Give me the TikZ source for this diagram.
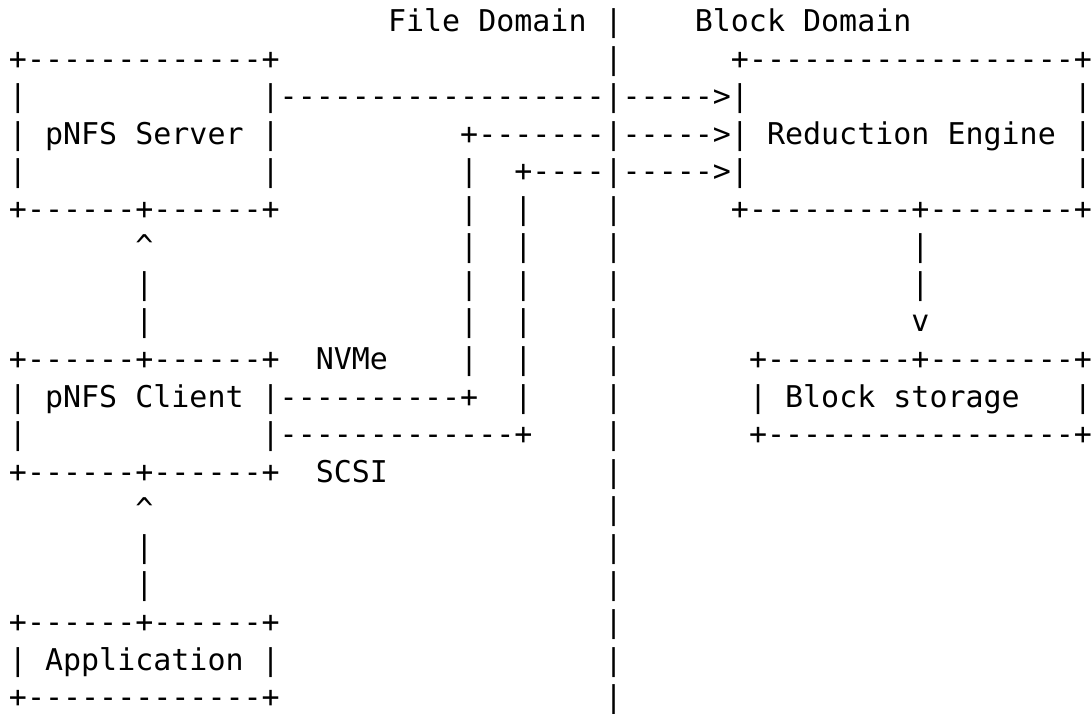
\documentclass[tikz,border=0pt]{standalone}
\usepackage{fontspec}
\setmonofont{DejaVu Sans Mono}
\newlength\cw
\settowidth\cw{\ttfamily\fontsize{29.98}{36}\selectfont x}
\newcommand\gapc[1]{\hspace*{#1\cw}}
\begin{document}
\begin{tikzpicture}[x=1pt,y=1pt,
  ln/.style={anchor=base west,inner sep=0pt,outer sep=0pt,text=black,
    font=\ttfamily\fontsize{29.98}{36}\selectfont}]
\useasboundingbox (0,0) rectangle (1092,714);
\node[ln] (l1)  at (9,682.5)  {\gapc{21}File Domain |\gapc{4}Block Domain};
\node[ln] (l2)  at (9,644.94) {+-------------+\gapc{18}|\gapc{6}+------------------+};
\node[ln] (l3)  at (9,607.38) {|\gapc{13}|------------------|----->|\gapc{18}|};
\node[ln] (l4)  at (9,569.82) {| pNFS Server |\gapc{10}+-------|----->| Reduction Engine |};
\node[ln] (l5)  at (9,532.26) {|\gapc{13}|\gapc{10}|\gapc{2}+----|----->|\gapc{18}|};
\node[ln] (l6)  at (9,494.70) {+------+------+\gapc{10}|\gapc{2}|\gapc{4}|\gapc{6}+---------+--------+};
\node[ln] (l7)  at (9,457.14) {\gapc{7}\textasciicircum\gapc{17}|\gapc{2}|\gapc{4}|\gapc{16}|};
\node[ln] (l8)  at (9,419.58) {\gapc{7}|\gapc{17}|\gapc{2}|\gapc{4}|\gapc{16}|};
\node[ln] (l9)  at (9,382.02) {\gapc{7}|\gapc{17}|\gapc{2}|\gapc{4}|\gapc{16}v};
\node[ln] (l10) at (9,344.46) {+------+------+\gapc{2}NVMe\gapc{4}|\gapc{2}|\gapc{4}|\gapc{7}+--------+--------+};
\node[ln] (l11) at (9,306.90) {| pNFS Client |----------+\gapc{2}|\gapc{4}|\gapc{7}| Block storage\gapc{3}|};
\node[ln] (l12) at (9,269.34) {|\gapc{13}|-------------+\gapc{4}|\gapc{7}+-----------------+};
\node[ln] (l13) at (9,231.78) {+------+------+\gapc{2}SCSI\gapc{12}|};
\node[ln] (l14) at (9,194.22) {\gapc{7}\textasciicircum\gapc{25}|};
\node[ln] (l15) at (9,156.66) {\gapc{7}|\gapc{25}|};
\node[ln] (l16) at (9,119.10) {\gapc{7}|\gapc{25}|};
\node[ln] (l17) at (9,81.54)  {+------+------+\gapc{18}|};
\node[ln] (l18) at (9,43.98)  {| Application |\gapc{18}|};
\node[ln] (l19) at (9,6.42)   {+-------------+\gapc{18}|};
\end{tikzpicture}
\end{document}
